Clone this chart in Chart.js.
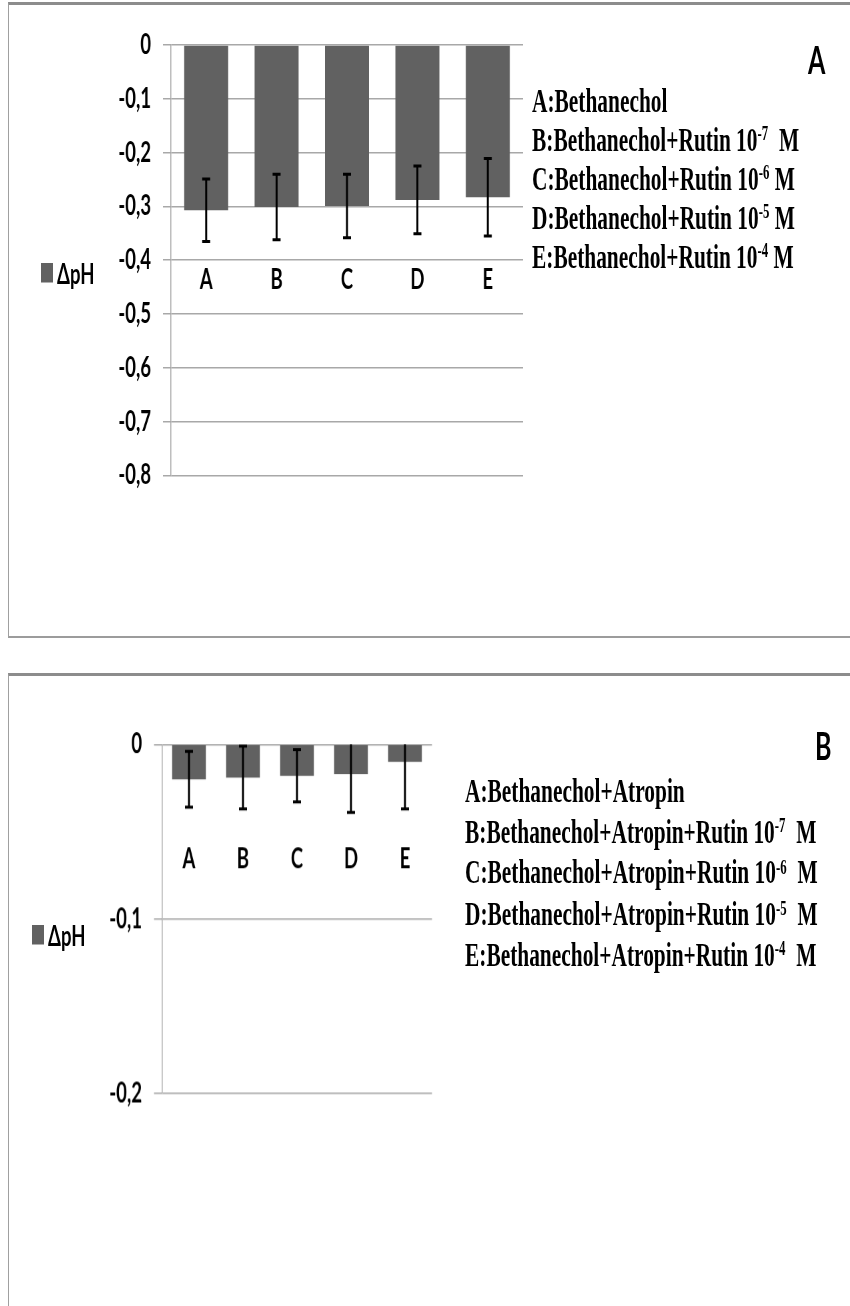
<!DOCTYPE html>
<html>
<head>
<meta charset="utf-8">
<script src="https://cdn.jsdelivr.net/npm/chart.js@4.4.1/dist/chart.umd.min.js"></script>
<style>
  html, body { margin: 0; padding: 0; background: #fff; }
  body { width: 850px; height: 1306px; overflow: hidden; position: relative; }
  .panel { position: absolute; left: 8px; width: 900px; border-top: 3px solid #8c8c8c; border-left: 1px solid #a0a0a0; }
  #panelA { top: 2px; height: 631px; border-bottom: 2px solid #9c9c9c; }
  #panelB { top: 673px; height: 700px; }
  /* the reference picture is stretched vertically, so each panel is drawn flat and stretched */
  .stretch { position: absolute; left: 0; top: 0; width: 880px; height: 440px; transform: scaleY(1.5); transform-origin: 0 0; }
  .box { position: absolute; left: 0; top: 0; }
  .legend { position: absolute; height: 20px; display: flex; align-items: center; font-family: "Lato", sans-serif; font-weight: bold; font-size: 18.5px; line-height: 20px; color: #000; white-space: nowrap; }
  .legend i { display: inline-block; width: 12px; height: 13px; background: #616161; margin-right: 4px; }
  .notes { position: absolute; font-family: "Liberation Serif", "Times New Roman", serif; font-weight: bold; font-size: 23px; color: #000; white-space: pre; transform: scaleX(0.93); transform-origin: 0 0; }
  .notes sup { font-size: 0.6em; position: relative; top: -0.5em; vertical-align: baseline; line-height: 0; }
  .tag { position: absolute; font-family: "Lato", sans-serif; font-weight: bold; font-size: 25px; line-height: 25px; color: #000; }
</style>
</head>
<body>
<div class="panel" id="panelA">
  <div class="stretch">
    <div class="box" style="width:560px;height:338.3px"><canvas id="chartA"></canvas></div>
    <div class="legend" id="legendA" style="left:32px;top:168.7px"></div>
    <div class="notes" id="notesA" style="left:523px;top:51px;line-height:26px"></div>
    <div class="tag" style="left:799px;top:24px">A</div>
  </div>
</div>
<div class="panel" id="panelB">
  <div class="stretch">
    <div class="box" style="width:470px;height:303px"><canvas id="chartB"></canvas></div>
    <div class="legend" id="legendB" style="left:23px;top:162.7px"></div>
    <div class="notes" id="notesB" style="left:456px;top:63px;line-height:27.2px"></div>
    <div class="tag" style="left:806px;top:34px">B</div>
  </div>
</div>
<script>
// Data
const categories = ['A', 'B', 'C', 'D', 'E'];
const seriesName = 'ΔpH';

const deltaPhA = [-0.307, -0.301, -0.299, -0.288, -0.283];
const errorA = [0.058, 0.061, 0.059, 0.063, 0.072];
const yTicksA = [0, -0.1, -0.2, -0.3, -0.4, -0.5, -0.6, -0.7, -0.8];

const deltaPhB = [-0.020, -0.019, -0.018, -0.017, -0.010];
const errorB = [0.016, 0.018, 0.015, 0.022, 0.027];
const yTicksB = [0, -0.1, -0.2];

const notesA = [
    'A:Bethanechol',
    'B:Bethanechol+Rutin 10^-7  M',
    'C:Bethanechol+Rutin 10^-6 M',
    'D:Bethanechol+Rutin 10^-5 M',
    'E:Bethanechol+Rutin 10^-4 M'
];
const notesB = [
    'A:Bethanechol+Atropin',
    'B:Bethanechol+Atropin+Rutin 10^-7  M',
    'C:Bethanechol+Atropin+Rutin 10^-6  M',
    'D:Bethanechol+Atropin+Rutin 10^-5  M',
    'E:Bethanechol+Atropin+Rutin 10^-4  M'
];

const BAR_COLOR = '#616161';
const GRID_COLOR = '#a8a8a8';
const TICK_FONT = { family: 'Lato', size: 18.5, weight: 'bold' };

// Excel style error bars with caps, clipped to the plot area
const errorBars = {
    id: 'errorBars',
    afterDatasetsDraw(chart, args, opts) {
        const { ctx, chartArea } = chart;
        const y = chart.scales.y;
        const values = chart.data.datasets[0].data;
        const meta = chart.getDatasetMeta(0);
        ctx.save();
        ctx.beginPath();
        ctx.rect(chartArea.left, chartArea.top, chartArea.width, chartArea.height);
        ctx.clip();
        ctx.strokeStyle = '#000';
        ctx.lineWidth = 2;
        meta.data.forEach((bar, i) => {
            const hi = values[i] + opts.errors[i];
            const lo = values[i] - opts.errors[i];
            const yHi = y.getPixelForValue(hi);
            const yLo = y.getPixelForValue(lo);
            ctx.beginPath();
            ctx.moveTo(bar.x, yHi);
            ctx.lineTo(bar.x, yLo);
            if (hi <= y.max) {
                ctx.moveTo(bar.x - 4, yHi);
                ctx.lineTo(bar.x + 4, yHi);
            }
            ctx.moveTo(bar.x - 4, yLo);
            ctx.lineTo(bar.x + 4, yLo);
            ctx.stroke();
        });
        ctx.restore();
    }
};

function formatTick(v) {
    return v === 0 ? '0' : v.toFixed(1).replace('.', ',');
}

function makeChart(id, values, errors, ticks, cfg) {
    return new Chart(document.getElementById(id), {
        type: 'bar',
        data: {
            labels: categories,
            datasets: [{
                label: seriesName,
                data: values,
                backgroundColor: BAR_COLOR,
                borderWidth: 0,
                categoryPercentage: 1,
                barPercentage: 0.625
            }]
        },
        options: {
            responsive: true,
            maintainAspectRatio: false,
            animation: false,
            devicePixelRatio: 1.5,
            layout: { padding: cfg.padding },
            plugins: {
                legend: { display: false },
                tooltip: { enabled: false },
                errorBars: { errors: errors }
            },
            scales: {
                x: {
                    position: { y: cfg.labelAt },
                    grid: { display: false, drawTicks: false },
                    border: { display: false },
                    ticks: { color: '#000', font: TICK_FONT, padding: cfg.labelPad }
                },
                y: {
                    min: ticks[ticks.length - 1],
                    max: ticks[0],
                    afterBuildTicks: (scale) => { scale.ticks = ticks.map(v => ({ value: v })); },
                    afterFit: (scale) => { scale.width = cfg.axisWidth; },
                    grid: { color: GRID_COLOR, lineWidth: 1, tickLength: 8, drawTicks: true },
                    border: { display: true, color: GRID_COLOR, width: 1 },
                    ticks: { color: '#000', font: TICK_FONT, padding: 12, callback: (v) => formatTick(v) }
                }
            }
        },
        plugins: [errorBars]
    });
}

function fillNotes(id, lines) {
    const el = document.getElementById(id);
    el.innerHTML = lines.map(s => s.replace(/10\^(-\d+)/, '10<sup>$1</sup>')).join('\n');
}

function fillLegend(id) {
    const el = document.getElementById(id);
    el.innerHTML = '<i></i><span></span>';
    el.querySelector('span').textContent = seriesName;
}

makeChart('chartA', deltaPhA, errorA, yTicksA, {
    padding: { top: 26.7, bottom: 24.7, right: 46, left: 0 },
    axisWidth: 162,
    labelAt: -0.4,
    labelPad: 2
});
makeChart('chartB', deltaPhB, errorB, yTicksB, {
    padding: { top: 45.5, bottom: 25, right: 47, left: 0 },
    axisWidth: 153,
    labelAt: -0.05,
    labelPad: 7
});

fillNotes('notesA', notesA);
fillNotes('notesB', notesB);
fillLegend('legendA');
fillLegend('legendB');
</script>
</body>
</html>
